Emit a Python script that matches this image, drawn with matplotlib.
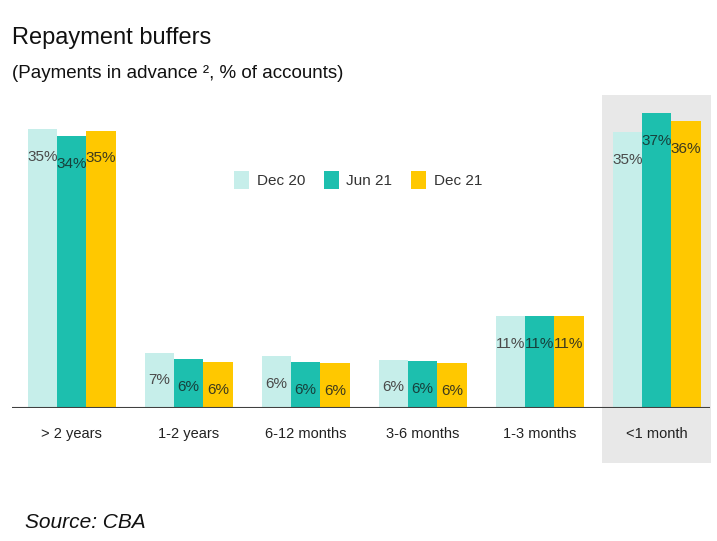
import matplotlib
matplotlib.use("Agg")
import matplotlib.pyplot as plt
import numpy as np
from matplotlib.patches import Rectangle
from matplotlib.transforms import blended_transform_factory

categories = ["> 2 years", "1-2 years", "6-12 months", "3-6 months", "1-3 months", "<1 month"]
series_names = ["Dec 20", "Jun 21", "Dec 21"]
dec20 = [35.2, 7.0, 6.5, 6.1, 11.6, 34.8]
jun21 = [34.3, 6.2, 5.8, 5.9, 11.6, 37.2]
dec21 = [35.0, 5.8, 5.7, 5.7, 11.6, 36.2]
dec20_labels = ["35%", "7%", "6%", "6%", "11%", "35%"]
jun21_labels = ["34%", "6%", "6%", "6%", "11%", "37%"]
dec21_labels = ["35%", "6%", "6%", "6%", "11%", "36%"]

colors = ["#C6EEEA", "#1DBFAE", "#FFC800"]
label_colors = ["#4a4a4a", "#17403c", "#3d3a1e"]
FAM = ["Liberation Sans Narrow", "Liberation Sans", "DejaVu Sans"]

fig = plt.figure(figsize=(7.17, 5.41), dpi=100)
ax = fig.add_axes([12/717, (541-408)/541, 698/717, (408-95)/541])

x = np.arange(len(categories))
w = 0.25
vals = [dec20, jun21, dec21]
labs = [dec20_labels, jun21_labels, dec21_labels]

# highlight for last category
trans = blended_transform_factory(ax.transData, ax.transAxes)
ax.add_patch(Rectangle((x[-1] - 0.465, -0.175), 0.93, 1.175, transform=trans,
                       facecolor="#E8E8E8", edgecolor="none", clip_on=False, zorder=0))

for i in range(3):
    bars = ax.bar(x + (i - 1) * w, vals[i], width=w, color=colors[i],
                  label=series_names[i], zorder=2)
    for b, v, t in zip(bars, vals[i], labs[i]):
        ax.text(b.get_x() + b.get_width() / 2, v - 3.5, t, ha="center", va="center",
                fontsize=11, color=label_colors[i], family=FAM, zorder=4)

ax.axhline(0, color="#404040", lw=1.5, zorder=3)
ax.set_xlim(-0.51, 5.455)
ax.set_ylim(0, 39.5)
for s in ax.spines.values():
    s.set_visible(False)
ax.set_yticks([])
ax.set_xticks(x)
ax.set_xticklabels(categories, family=FAM, fontsize=10.5, color="#222222")
ax.tick_params(axis="x", length=0, pad=14)
ax.patch.set_alpha(0)

leg = fig.legend(loc="center", bbox_to_anchor=(358/717, 1 - 180/541), ncol=3,
                 frameon=False, prop={"family": FAM, "size": 11},
                 handlelength=1.0, handleheight=1.4, handletextpad=0.5, columnspacing=1.2)
for t in leg.get_texts():
    t.set_color("#333333")

fig.text(12/717, 1 - 38/541, "Repayment buffers", family=FAM, fontsize=17,
         va="center", ha="left", color="#111111")
fig.text(12/717, 1 - 74/541, "(Payments in advance \u00b2, % of accounts)", family=FAM,
         fontsize=13.5, va="center", ha="left", color="#111111")
fig.text(25/717, 1 - 523/541, "Source: CBA", family=["Liberation Sans", "DejaVu Sans"],
         style="italic", fontsize=15, va="center", ha="left", color="#111111")

fig.savefig("out.png", dpi=100)
